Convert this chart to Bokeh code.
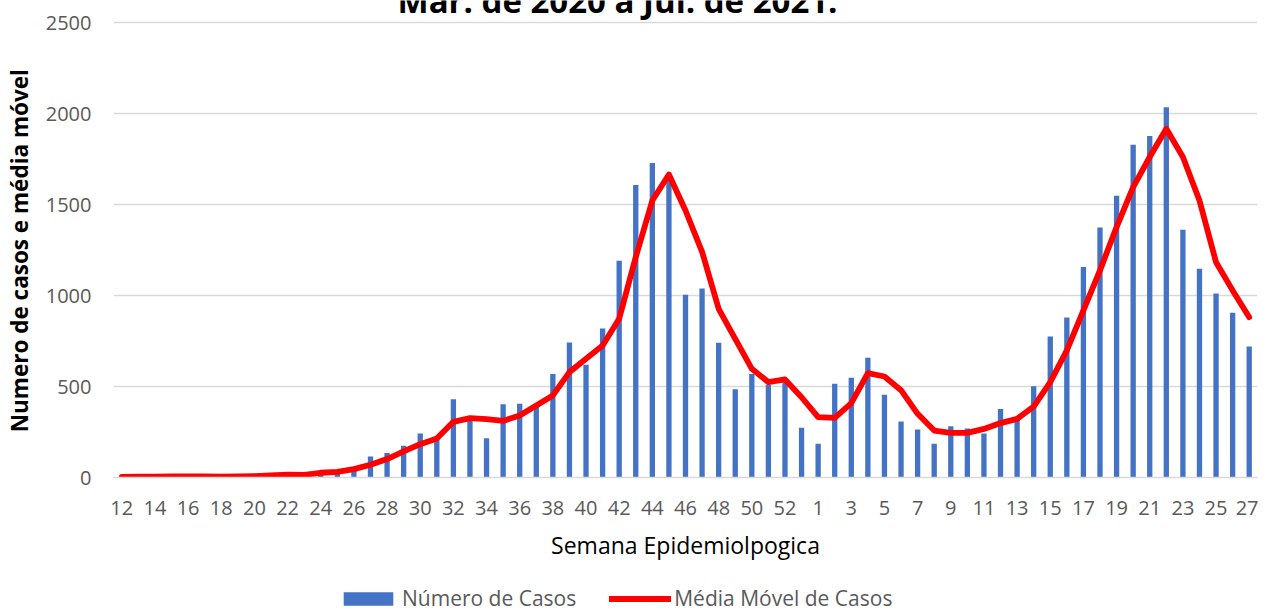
from bokeh.plotting import figure
from bokeh.models import Range1d, FixedTicker, Legend, LegendItem, Label
from bokeh.layouts import column
from bokeh.embed import file_html
from bokeh.resources import INLINE

weeks = [str(w) for w in range(12, 54)] + [str(w) for w in range(1, 28)]

casos = [1, 2, 3, 4, 5, 5, 4, 6, 8, 12, 14, 12,
         38, 28, 42, 115, 134, 174, 242, 208, 430, 322, 216, 402,
         405, 388, 568, 742, 619, 819, 1191, 1607, 1728, 1640, 1004, 1039,
         740, 485, 568, 508, 522, 273,
         185, 515, 548, 658, 454, 308, 264, 185, 282, 269, 242, 377,
         318, 502, 775, 879, 1156, 1374, 1548, 1828, 1876, 2035, 1361, 1147,
         1011, 905, 720]

media = [3, 4, 5, 6, 6, 6, 5, 6, 8, 11, 15, 14,
         26, 31, 46, 70, 101, 143, 183, 214, 306, 326, 321, 311,
         341, 396, 451, 579, 652, 725, 872, 1211, 1522, 1665, 1467, 1240,
         927, 762, 597, 524, 539, 441,
         332, 328, 409, 573, 555, 480, 350, 258, 245, 245, 267, 299,
         322, 390, 524, 698, 918, 1138, 1376, 1596, 1761, 1916, 1761, 1522,
         1183, 1028, 881]

y_ticks = [0, 500, 1000, 1500, 2000, 2500]

title_line = "Mar. de 2020 a Jul. de 2021."
y_title = "Numero de casos e média móvel"
x_title = "Semana Epidemiolpogica"
legend_labels = ["Número de Casos", "Média Móvel de Casos"]

FONT = "Open Sans"
TICK_COLOR = "#595959"
BAR_COLOR = "#4472C4"
LINE_COLOR = "#FF0000"
W = 1258

x = list(range(len(weeks)))

# frame: 455 px for 0..2500, extended 22 px upward (room for the cut title)
px = y_ticks[-1] / 455.0
y_top = y_ticks[-1] + 22 * px

p = figure(width=W, height=578, output_backend="svg", toolbar_location=None,
           x_range=Range1d(-0.5, len(weeks) - 0.5), y_range=Range1d(0, y_top),
           min_border_left=107, min_border_right=1, min_border_top=0,
           min_border_bottom=101)
p.outline_line_color = None

bars = p.vbar(x=x, top=casos, width=0.32, color=BAR_COLOR, line_color=None)
line = p.line(x=x, y=media, line_color=LINE_COLOR, line_width=5.8,
              line_join="round", line_cap="round")

p.xaxis.ticker = FixedTicker(ticks=list(range(0, len(weeks), 2)))
p.xaxis.major_label_overrides = {i: weeks[i] for i in range(len(weeks))}
p.xaxis.major_tick_line_color = None
p.xaxis.minor_tick_line_color = None
p.xaxis.axis_line_color = "#d9d9d9"
p.xaxis.axis_line_width = 1.5
p.xaxis.major_label_text_font = FONT
p.xaxis.major_label_text_font_size = "20px"
p.xaxis.major_label_text_color = TICK_COLOR
p.xaxis.major_label_standoff = 17
p.xaxis.axis_label = x_title
p.xaxis.axis_label_text_font = FONT
p.xaxis.axis_label_text_font_size = "23px"
p.xaxis.axis_label_text_font_style = "normal"
p.xaxis.axis_label_text_color = "#000000"
p.xaxis.axis_label_standoff = 11

p.yaxis.ticker = FixedTicker(ticks=y_ticks)
p.yaxis.major_tick_line_color = None
p.yaxis.minor_tick_line_color = None
p.yaxis.axis_line_color = None
p.yaxis.major_label_text_font = FONT
p.yaxis.major_label_text_font_size = "20px"
p.yaxis.major_label_text_color = TICK_COLOR
p.yaxis.major_label_standoff = 16
# trailing no-break spaces keep the rotated title centred on the 0..2500 span
p.yaxis.axis_label = y_title + "\u00a0" * 4
p.yaxis.axis_label_text_font = FONT
p.yaxis.axis_label_text_font_size = "22.5px"
p.yaxis.axis_label_text_font_style = "bold"
p.yaxis.axis_label_text_color = "#000000"
p.yaxis.axis_label_standoff = 8

p.xgrid.grid_line_color = None
p.ygrid.grid_line_color = "#d9d9d9"
p.ygrid.grid_line_width = 1.3

# last line of the title, cut at the top edge as in the original
p.add_layout(Label(x=29.9, y=y_ticks[-1] + 22.5 * px,
                   text=title_line, text_align="center",
                   text_baseline="alphabetic", text_font=FONT,
                   text_font_size="33px", text_font_style="bold",
                   text_color="#000000"))

# legend strip below the chart (its renderers lie outside its ranges)
q = figure(width=W, height=34, output_backend="svg", toolbar_location=None,
           x_range=Range1d(200, 300), y_range=Range1d(5000, 6000),
           x_axis_location=None, y_axis_location=None,
           min_border=0, min_border_left=0, min_border_right=0,
           min_border_top=0, min_border_bottom=0)
q.grid.visible = False
q.outline_line_color = None
lb = q.vbar(x=x, top=casos, width=0.32, color=BAR_COLOR, line_color=None)
ll = q.line(x=x, y=media, line_color=LINE_COLOR, line_width=5.8, line_cap="round")
legend = Legend(items=[LegendItem(label=legend_labels[0], renderers=[lb]),
                       LegendItem(label=legend_labels[1], renderers=[ll])],
                orientation="horizontal", location=(224, 0),
                glyph_width=62, glyph_height=17, label_standoff=3, spacing=33,
                label_text_font=FONT, label_text_font_size="21px",
                label_text_color=TICK_COLOR, border_line_color=None,
                background_fill_alpha=0, margin=0, padding=0)
q.add_layout(legend)

layout = column(p, q, spacing=0)
open("out.html", "w").write(file_html(layout, INLINE))
